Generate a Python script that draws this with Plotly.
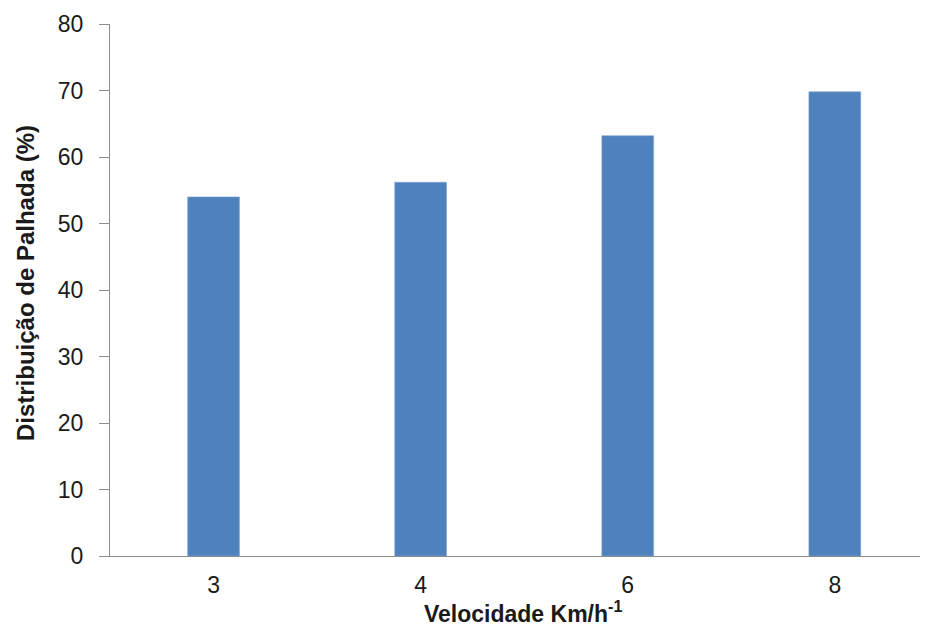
import plotly.graph_objects as go

categories = ["3", "4", "6", "8"]
values = [54.0, 56.2, 63.2, 69.8]
y_ticks = [0, 10, 20, 30, 40, 50, 60, 70, 80]

FONT = "Liberation Sans, Arial, sans-serif"
AXIS_COLOR = "#8c8c8c"
TEXT_COLOR = "#1a1a1a"

fig = go.Figure(
    go.Bar(
        x=categories,
        y=values,
        marker=dict(color="#4F81BD", line=dict(color="#7ea1d0", width=0.6)),
        width=0.25,
        hoverinfo="x+y",
    )
)

# page body adds an 8px offset, so the figure is 920x617
fig.update_layout(
    width=920,
    height=617,
    margin=dict(l=102, r=0, t=16, b=69),
    paper_bgcolor="white",
    plot_bgcolor="white",
    showlegend=False,
    font=dict(family=FONT, color=TEXT_COLOR, size=22),
)

fig.update_xaxes(
    type="category",
    range=[-0.5, 3.45],
    showline=True,
    linecolor=AXIS_COLOR,
    linewidth=1.3,
    showgrid=False,
    ticks="",
    tickfont=dict(size=23, family=FONT, color=TEXT_COLOR),
    ticklabelstandoff=8,
)

fig.update_yaxes(
    range=[0, 80],
    tickvals=y_ticks,
    showline=True,
    linecolor=AXIS_COLOR,
    linewidth=1.3,
    showgrid=False,
    zeroline=False,
    ticks="outside",
    ticklen=10,
    tickcolor=AXIS_COLOR,
    tickwidth=1.3,
    tickfont=dict(size=23, family=FONT, color=TEXT_COLOR),
    ticklabelstandoff=11,
)

fig.add_annotation(
    text="<b>Distribuição de Palhada (%)</b>",
    xref="paper", yref="paper",
    x=-0.1039, y=0.513,
    xanchor="center", yanchor="middle",
    textangle=-90,
    showarrow=False,
    font=dict(size=24, family=FONT, color=TEXT_COLOR),
)

fig.add_annotation(
    text="<b>Velocidade Km/h<sup>-1</sup></b>",
    xref="paper", yref="paper",
    x=0.505, y=-0.106,
    xanchor="center", yanchor="middle",
    showarrow=False,
    font=dict(size=23, family=FONT, color=TEXT_COLOR),
)

fig.write_html("out.html")
